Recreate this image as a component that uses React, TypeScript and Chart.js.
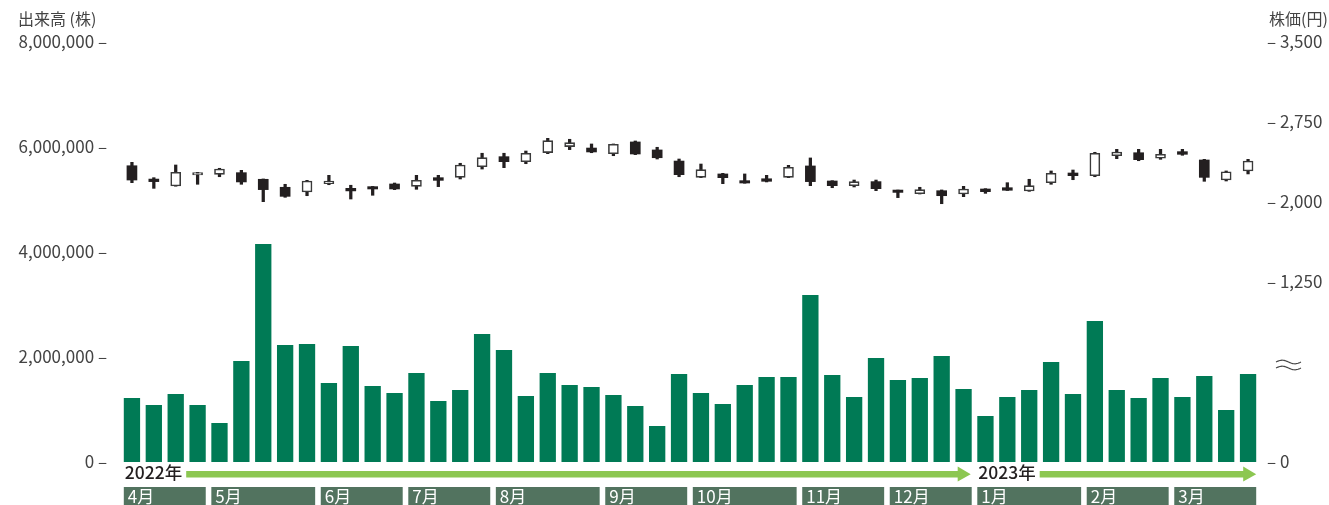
import React, { useEffect, useRef } from 'react';
import { Chart, registerables } from 'chart.js';

Chart.register(...registerables);

const months = ['4月', '5月', '6月', '7月', '8月', '9月', '10月', '11月', '12月', '1月', '2月', '3月'];
const weeksPerMonth = [4, 5, 4, 4, 5, 4, 5, 4, 4, 5, 4, 4];
const years = ['2022年', '2023年'];
const yearFirstMonth = [0, 9];

const volume = [
  1219000, 1086000, 1295000, 1086000, 743000, 1924000, 4152000, 2229000, 2248000, 1505000,
  2210000, 1448000, 1314000, 1695000, 1162000, 1371000, 2438000, 2133000, 1257000, 1695000,
  1467000, 1429000, 1276000, 1067000, 686000, 1676000, 1314000, 1105000, 1467000, 1619000,
  1619000, 3181000, 1657000, 1238000, 1981000, 1562000, 1600000, 2019000, 1390000, 876000,
  1238000, 1371000, 1905000, 1295000, 2686000, 1371000, 1219000, 1600000, 1238000, 1638000,
  990000, 1676000,
];

const open = [
  2340, 2215, 2150, 2253, 2259, 2275, 2213, 2138, 2094, 2172,
  2128, 2144, 2169, 2147, 2228, 2231, 2331, 2425, 2378, 2463,
  2519, 2506, 2453, 2563, 2488, 2384, 2231, 2263, 2200, 2218,
  2231, 2338, 2197, 2153, 2191, 2112, 2078, 2106, 2075, 2122,
  2134, 2103, 2181, 2272, 2247, 2434, 2462, 2410, 2472, 2394,
  2206, 2291,
];
const close = [
  2206, 2191, 2278, 2275, 2309, 2188, 2116, 2053, 2197, 2197,
  2104, 2122, 2122, 2203, 2203, 2347, 2416, 2378, 2457, 2575,
  2556, 2469, 2541, 2450, 2415, 2256, 2303, 2228, 2178, 2194,
  2325, 2191, 2153, 2191, 2125, 2090, 2116, 2059, 2122, 2097,
  2110, 2153, 2269, 2247, 2457, 2469, 2397, 2447, 2447, 2231,
  2284, 2384,
];
const high = [
  2372, 2228, 2347, 2278, 2316, 2297, 2216, 2166, 2203, 2250,
  2157, 2146, 2178, 2250, 2250, 2363, 2457, 2457, 2478, 2597,
  2588, 2544, 2544, 2572, 2513, 2403, 2356, 2269, 2263, 2250,
  2344, 2413, 2200, 2206, 2206, 2112, 2138, 2113, 2147, 2125,
  2181, 2213, 2291, 2300, 2466, 2494, 2494, 2494, 2494, 2400,
  2291, 2400,
];
const low = [
  2181, 2128, 2148, 2166, 2237, 2166, 2003, 2044, 2059, 2162,
  2028, 2063, 2116, 2119, 2144, 2216, 2309, 2322, 2359, 2453,
  2491, 2462, 2434, 2444, 2403, 2237, 2228, 2172, 2176, 2188,
  2228, 2153, 2134, 2141, 2106, 2041, 2075, 1984, 2050, 2081,
  2108, 2100, 2166, 2209, 2237, 2406, 2387, 2400, 2438, 2194,
  2197, 2263,
];

const volumeTicks = [0, 2000000, 4000000, 6000000, 8000000];
const priceTicks = [1250, 2000, 2750, 3500];
const priceBreakLabel = '0';

const FONT = '"Noto Sans CJK JP", "Noto Sans", sans-serif';

const weekLabels: string[] = [];
months.forEach((m, i) => {
  for (let w = 1; w <= weeksPerMonth[i]; w++) weekLabels.push(`${m}第${w}週`);
});

const bodies = open.map((o, i) => [o, close[i]]);
const wicks = low.map((l, i) => [l, high[i]]);
const isUp = open.map((o, i) => close[i] >= o);

export default function App() {
  const ref = useRef<HTMLCanvasElement | null>(null);

  useEffect(() => {
    if (!ref.current) return;
    const priceMin = -437.5;

    const decor = {
      id: 'decor',
      afterDraw(chart: any) {
        const ctx = chart.ctx;
        const x = chart.scales.x;
        const half = (x.getPixelForValue(1) - x.getPixelForValue(0)) / 2;
        ctx.save();
        // axis titles
        ctx.font = `16px ${FONT}`;
        ctx.fillStyle = '#444';
        ctx.textBaseline = 'middle';
        ctx.textAlign = 'left';
        ctx.fillText('出来高 (株)', 18, 19);
        ctx.fillText('株価(円)', 1269, 19);

        // break mark
        ctx.strokeStyle = '#444';
        ctx.lineWidth = 1.2;
        [362, 368].forEach((yy) => {
          ctx.beginPath();
          for (let t = 0; t <= 25; t++) {
            const px = 1276 + t;
            const py = yy + Math.sin((t / 25) * Math.PI * 2) * -1.8;
            if (t === 0) ctx.moveTo(px, py);
            else ctx.lineTo(px, py);
          }
          ctx.stroke();
        });

        // month boxes
        const boxes: { l: number; r: number }[] = [];
        let idx = 0;
        months.forEach((m, i) => {
          const first = idx;
          const last = idx + weeksPerMonth[i] - 1;
          idx += weeksPerMonth[i];
          const l = x.getPixelForValue(first) - half + 2.8;
          const r = x.getPixelForValue(last) + half - 2.8;
          boxes.push({ l, r });
          ctx.fillStyle = '#52735f';
          ctx.fillRect(l, 487, r - l, 25);
          ctx.fillStyle = '#ffffff';
          ctx.font = `17px ${FONT}`;
          ctx.textAlign = 'left';
          ctx.textBaseline = 'middle';
          ctx.fillText(m, l + 4, 497);
        });

        // year row with arrows
        years.forEach((yl, i) => {
          const startBox = boxes[yearFirstMonth[i]];
          const endMonth = i + 1 < years.length ? yearFirstMonth[i + 1] - 1 : months.length - 1;
          const endBox = boxes[endMonth];
          ctx.font = `500 17.5px ${FONT}`;
          ctx.fillStyle = '#231f20';
          ctx.textAlign = 'left';
          ctx.textBaseline = 'middle';
          const tx = startBox.l + 1;
          ctx.fillText(yl, tx, 472);
          const tw = ctx.measureText(yl).width;
          const ls = tx + tw + 4;
          const tip = i + 1 < years.length ? endBox.r - 1 : endBox.r;
          ctx.fillStyle = '#8cc751';
          ctx.fillRect(ls, 471, tip - 12 - ls, 6.5);
          ctx.beginPath();
          ctx.moveTo(tip - 13, 466.5);
          ctx.lineTo(tip, 474.2);
          ctx.lineTo(tip - 13, 481.5);
          ctx.closePath();
          ctx.fill();
        });
        ctx.restore();
      },
    };

    const chart = new Chart(ref.current, {
      type: 'bar',
      data: {
        labels: weekLabels,
        datasets: [
          {
            label: '株価',
            data: bodies as any,
            yAxisID: 'y2',
            grouped: false,
            order: 0,
            barThickness: 10,
            backgroundColor: isUp.map((u) => (u ? '#ffffff' : '#231f20')),
            borderColor: isUp.map((u) => (u ? '#3a3a3a' : '#231f20')),
            borderWidth: isUp.map((u) => (u ? 1.6 : 0)),
            borderSkipped: false,
          } as any,
          {
            label: '高値・安値',
            data: wicks as any,
            yAxisID: 'y2',
            grouped: false,
            order: 1,
            barThickness: 2.6,
            backgroundColor: '#231f20',
            borderWidth: 0,
          } as any,
          {
            label: '出来高',
            data: volume,
            yAxisID: 'y',
            grouped: false,
            order: 2,
            barPercentage: 0.745,
            categoryPercentage: 1,
            backgroundColor: '#007a55',
            borderWidth: 0,
          } as any,
        ],
      },
      options: {
        animation: false,
        responsive: false,
        maintainAspectRatio: false,
        layout: { padding: { top: 42, bottom: 43, left: 0, right: 0 } },
        plugins: { legend: { display: false }, tooltip: { enabled: false }, title: { display: false } },
        scales: {
          x: {
            type: 'category',
            display: false,
            offset: true,
            grid: { display: false },
          },
          y: {
            position: 'left',
            min: 0,
            max: 8000000,
            grid: { display: false, drawTicks: false },
            border: { display: false },
            afterBuildTicks: (s: any) => {
              s.ticks = volumeTicks.map((v) => ({ value: v }));
            },
            afterFit: (s: any) => {
              s.width = 121;
            },
            ticks: {
              padding: 14,
              color: '#444',
              font: { family: FONT, size: 17 },
              callback: (v: any) => `${Number(v).toLocaleString('en-US')} –`,
            },
          },
          y2: {
            position: 'right',
            min: priceMin,
            max: 3500,
            grid: { display: false, drawTicks: false },
            border: { display: false },
            afterBuildTicks: (s: any) => {
              s.ticks = [{ value: priceMin }, ...priceTicks.map((v) => ({ value: v }))];
            },
            afterFit: (s: any) => {
              s.width = 70;
            },
            ticks: {
              padding: 8,
              color: '#444',
              font: { family: FONT, size: 17 },
              callback: (v: any) =>
                v === priceMin ? `– ${priceBreakLabel}` : `– ${Number(v).toLocaleString('en-US')}`,
            },
          },
        },
      },
      plugins: [decor],
    } as any);

    return () => chart.destroy();
  }, []);

  return (
    <div style={{ position: 'fixed', left: 0, top: 0, width: 1329, height: 505, background: '#fff' }}>
      <canvas ref={ref} width={1329} height={505} style={{ width: 1329, height: 505, display: 'block' }} />
    </div>
  );
}
